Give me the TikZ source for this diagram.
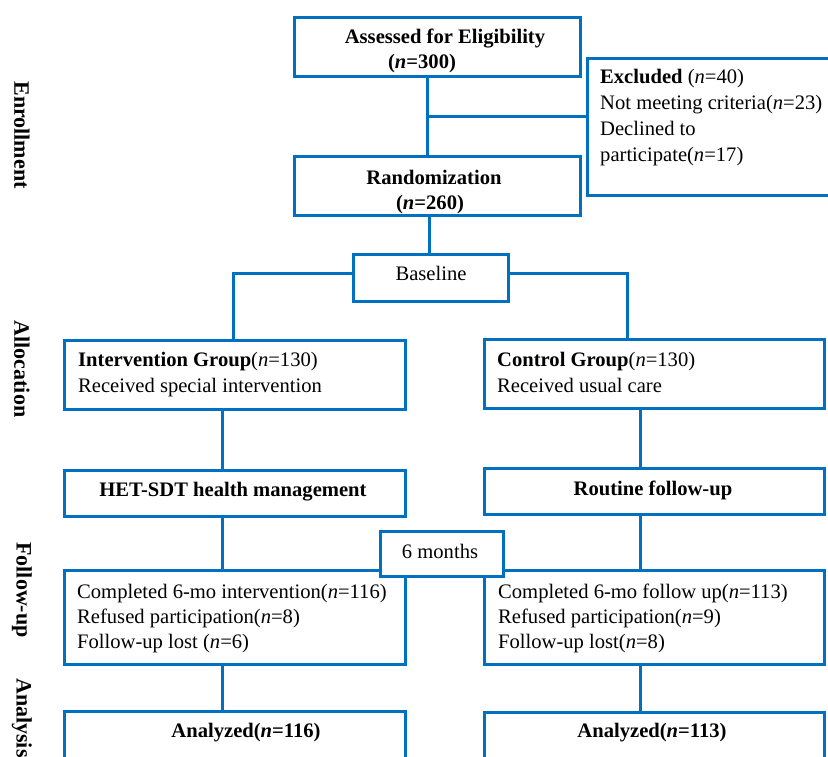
\documentclass[tikz,border=0pt]{standalone}
\usepackage{fontspec}
\setmainfont{Liberation Serif}
\definecolor{lineblue}{RGB}{0,112,192}
\begin{document}
\begin{tikzpicture}[x=1pt,y=-1pt,
  conn/.style={draw=lineblue,line width=3pt},
  bx/.style={draw=lineblue,line width=3pt,fill=white,inner sep=0pt,anchor=north west},
  txt/.style={inner sep=0pt,font=\fontsize{20.6}{25}\selectfont},
  side/.style={inner sep=0pt,rotate=-90,font=\fontsize{22}{26}\selectfont\bfseries}]
\useasboundingbox (0,0) rectangle (828,756);
\clip (0,0) rectangle (828,756);
\newcommand{\boxat}[5]{\node[bx,minimum width={#4-#2},minimum height={#5-#3}] (#1) at (#2,#3) {};}
% helper coordinates
\coordinate (xA) at (427,0);
\coordinate (xR) at (429,0);
\coordinate (xL) at (222,0);
\coordinate (xLb) at (233,0);
\coordinate (xRt) at (640,0);
\coordinate (xRb) at (627,0);
\coordinate (yX) at (0,116);
\coordinate (yB) at (0,273);
% boxes
\boxat{assess}{293}{16}{579}{75}
\boxat{excl}{586}{57}{880}{194}
\boxat{rand}{293}{155}{579}{214}
\boxat{base}{352}{253}{507}{300}
\boxat{intv}{63}{339}{404}{408}
\boxat{ctrl}{483}{338}{823}{407}
\boxat{het}{63}{469}{404}{515}
\boxat{rout}{483}{467}{823}{513}
\boxat{compL}{63}{569}{404}{663}
\boxat{compR}{483}{569}{823}{663}
\boxat{anaL}{63}{710}{404}{800}
\boxat{anaR}{483}{711}{823}{800}
\boxat{six}{379}{530}{502}{575}
% connectors
\draw[conn] (assess.south -| xA) -- (rand.north -| xA);
\draw[conn] (excl.west |- yX) -- (xA |- yX);
\draw[conn] (rand.south -| xR) -- (base.north -| xR);
\draw[conn] (base.west |- yB) -| (intv.north -| xLb);
\draw[conn] (base.east |- yB) -| (ctrl.north -| xRb);
\draw[conn] (intv.south -| xL) -- (het.north -| xL);
\draw[conn] (het.south -| xL) -- (compL.north -| xL);
\draw[conn] (compL.south -| xL) -- (anaL.north -| xL);
\draw[conn] (ctrl.south -| xRt) -- (rout.north -| xRt);
\draw[conn] (rout.south -| xRt) -- (compR.north -| xRt);
\draw[conn] (compR.south -| xRt) -- (anaR.north -| xRt);
% texts
\node[txt,anchor=base] (t1) at (445,43) {\textbf{Assessed for Eligibility}};
\node[txt,anchor=base] (t2) at (422,68) {\textbf{(\textit{n}=300)}};
\node[txt,anchor=base west] (t3) at (600,83) {\textbf{Excluded} (\textit{n}=40)};
\node[txt,anchor=base west] (t4) at (600,109) {Not meeting criteria(\textit{n}=23)};
\node[txt,anchor=base west] (t5) at (600,135) {Declined to};
\node[txt,anchor=base west] (t6) at (600,161) {participate(\textit{n}=17)};
\node[txt,anchor=base] (t7) at (434,184) {\textbf{Randomization}};
\node[txt,anchor=base] (t8) at (430,209) {\textbf{(\textit{n}=260)}};
\node[txt,anchor=base] (t9) at (431,280) {Baseline};
\node[txt,anchor=base west] (t10) at (78,366) {\textbf{Intervention Group}(\textit{n}=130)};
\node[txt,anchor=base west] (t11) at (78,392) {Received special intervention};
\node[txt,anchor=base west] (t12) at (497,366) {\textbf{Control Group}(\textit{n}=130)};
\node[txt,anchor=base west] (t13) at (497,392) {Received usual care};
\node[txt,anchor=base] (t14) at (233,496) {\textbf{HET-SDT health management}};
\node[txt,anchor=base] (t15) at (653,495) {\textbf{Routine follow-up}};
\node[txt,anchor=base] (t16) at (440,558) {6 months};
\node[txt,anchor=base west] (t17) at (77,598) {Completed 6-mo intervention(\textit{n}=116)};
\node[txt,anchor=base west] (t18) at (77,623) {Refused participation(\textit{n}=8)};
\node[txt,anchor=base west] (t19) at (77,648) {Follow-up lost (\textit{n}=6)};
\node[txt,anchor=base west] (t20) at (498,598) {Completed 6-mo follow up(\textit{n}=113)};
\node[txt,anchor=base west] (t21) at (498,623) {Refused participation(\textit{n}=9)};
\node[txt,anchor=base west] (t22) at (498,648) {Follow-up lost(\textit{n}=8)};
\node[txt,anchor=base] (t23) at (246,737) {\textbf{Analyzed(\textit{n}=116)}};
\node[txt,anchor=base] (t24) at (652,737) {\textbf{Analyzed(\textit{n}=113)}};
% side labels
\node[side] (s1) at (22,135) {Enrollment};
\node[side] (s2) at (22,369) {Allocation};
\node[side] (s3) at (22,590) {Follow-up};
\node[side,anchor=west] (s4) at (22,678) {Analysis};
\end{tikzpicture}
\end{document}
